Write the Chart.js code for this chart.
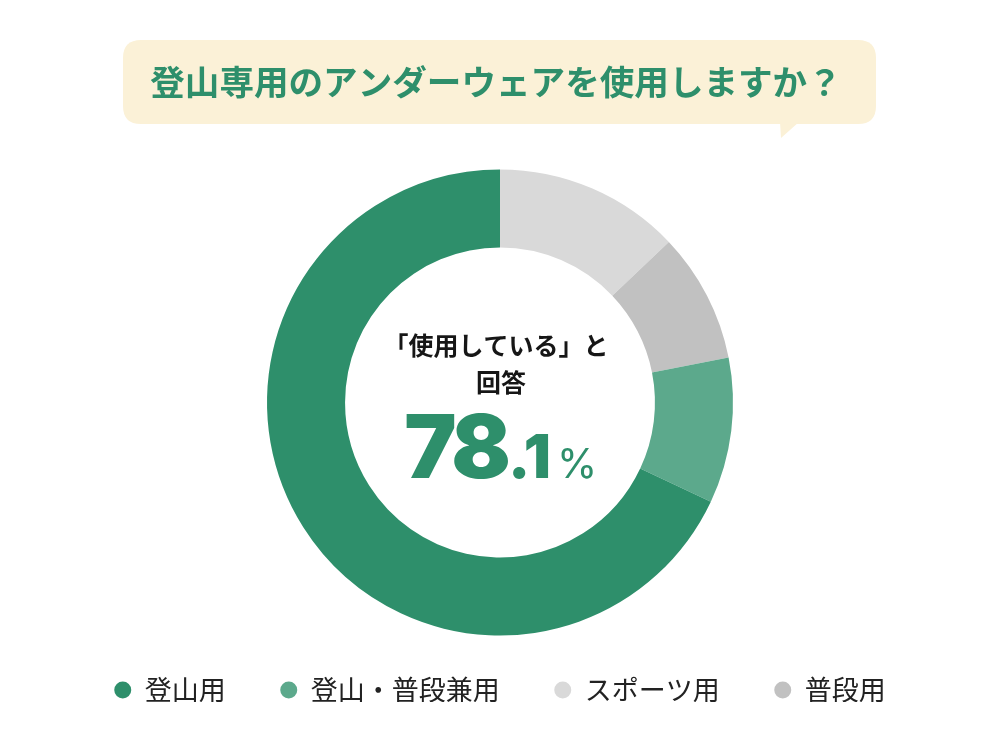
<!DOCTYPE html>
<html><head><meta charset="utf-8">
<script src="https://cdn.jsdelivr.net/npm/chart.js@4.4.1/dist/chart.umd.min.js"></script>
<style>html,body{margin:0;padding:0;background:#fff;} #wrap{width:1000px;height:750px;position:relative;}</style>
</head><body><div id="wrap"><canvas id="c" width="1000" height="750"></canvas></div>
<script>
// Data (legend order)
const categories = ['登山用', '登山・普段兼用', 'スポーツ用', '普段用'];
const values = [68.0, 10.1, 12.9, 9.0];
const colors = ['#2E8F6B', '#5CA98C', '#D9D9D9', '#C1C1C1'];
// order in which slices run clockwise from 12 o'clock
const drawOrder = [2, 3, 1, 0];
const titleText = '登山専用のアンダーウェアを使用しますか？';
const centerLines = ['「使用している」と', '回答'];
const centerValueInt = '78';
const centerValueDec = '.1';
const centerValueUnit = '%';

const JP = '"Noto Sans CJK JP", "Noto Sans", sans-serif';
const GREEN = '#2E8F6B';

function roundRect(ctx, x, y, w, h, r) {
  ctx.beginPath();
  ctx.moveTo(x + r, y);
  ctx.lineTo(x + w - r, y);
  ctx.quadraticCurveTo(x + w, y, x + w, y + r);
  ctx.lineTo(x + w, y + h - r);
  ctx.quadraticCurveTo(x + w, y + h, x + w - r, y + h);
  ctx.lineTo(x + r, y + h);
  ctx.quadraticCurveTo(x, y + h, x, y + h - r);
  ctx.lineTo(x, y + r);
  ctx.quadraticCurveTo(x, y, x + r, y);
  ctx.closePath();
}

const decorPlugin = {
  id: 'decor',
  beforeDraw(chart) {
    const ctx = chart.ctx;
    ctx.save();
    ctx.fillStyle = '#FBF1D7';
    roundRect(ctx, 123, 40, 753, 84, 18);
    ctx.fill();
    ctx.beginPath();
    ctx.moveTo(780, 122);
    ctx.lineTo(781, 138);
    ctx.lineTo(799, 122);
    ctx.closePath();
    ctx.fill();
    ctx.fillStyle = GREEN;
    ctx.font = 'bold 34.6px ' + JP;
    ctx.textAlign = 'center';
    ctx.textBaseline = 'middle';
    ctx.fillText(titleText, 496, 82);
    ctx.restore();
  },
  afterDraw(chart) {
    const ctx = chart.ctx;
    const cx = (chart.chartArea.left + chart.chartArea.right) / 2;
    const cy = (chart.chartArea.top + chart.chartArea.bottom) / 2;
    ctx.save();
    ctx.fillStyle = '#161616';
    ctx.font = 'bold 25px ' + JP;
    ctx.textAlign = 'center';
    ctx.textBaseline = 'middle';
    ctx.fillText(centerLines[0], cx - 4, cy - 57);
    ctx.fillText(centerLines[1], cx + 1, cy - 20);
    ctx.fillStyle = GREEN;
    ctx.textBaseline = 'alphabetic';
    ctx.textAlign = 'right';
    ctx.font = '900 88px Inter, "Noto Sans", sans-serif';
    try { ctx.letterSpacing = '-4px'; } catch (e) {}
    ctx.fillText(centerValueInt, cx + 7, cy + 75);
    ctx.textAlign = 'left';
    ctx.font = '900 60px Inter, "Noto Sans", sans-serif';
    try { ctx.letterSpacing = '-1px'; } catch (e) {}
    ctx.fillText(centerValueDec, cx + 8, cy + 75);
    ctx.font = '400 41px Inter, "Noto Sans", sans-serif';
    try { ctx.letterSpacing = '0px'; } catch (e) {}
    ctx.fillText(centerValueUnit, cx + 57, cy + 75);
    ctx.restore();
  }
};

const orderedLabels = drawOrder.map(i => categories[i]);
const orderedValues = drawOrder.map(i => values[i]);
const orderedColors = drawOrder.map(i => colors[i]);

new Chart(document.getElementById('c'), {
  type: 'doughnut',
  data: {
    labels: orderedLabels,
    datasets: [{
      data: orderedValues,
      backgroundColor: orderedColors,
      borderWidth: 0,
      hoverOffset: 0
    }]
  },
  options: {
    responsive: false,
    animation: false,
    radius: 233,
    cutout: '66.5%',
    rotation: 0,
    layout: { padding: { top: 183, bottom: 48, left: 0, right: 0 } },
    plugins: {
      tooltip: { enabled: false },
      legend: {
        position: 'bottom',
        maxHeight: 80,
        labels: {
          usePointStyle: true,
          pointStyle: 'circle',
          boxHeight: 12,
          pointStyleWidth: 17,
          padding: 54.5,
          color: '#222',
          font: { family: JP, size: 27, weight: 'normal' },
          sort: (a, b) => categories.indexOf(a.text) - categories.indexOf(b.text)
        }
      }
    }
  },
  plugins: [decorPlugin]
});
</script>
</body></html>
